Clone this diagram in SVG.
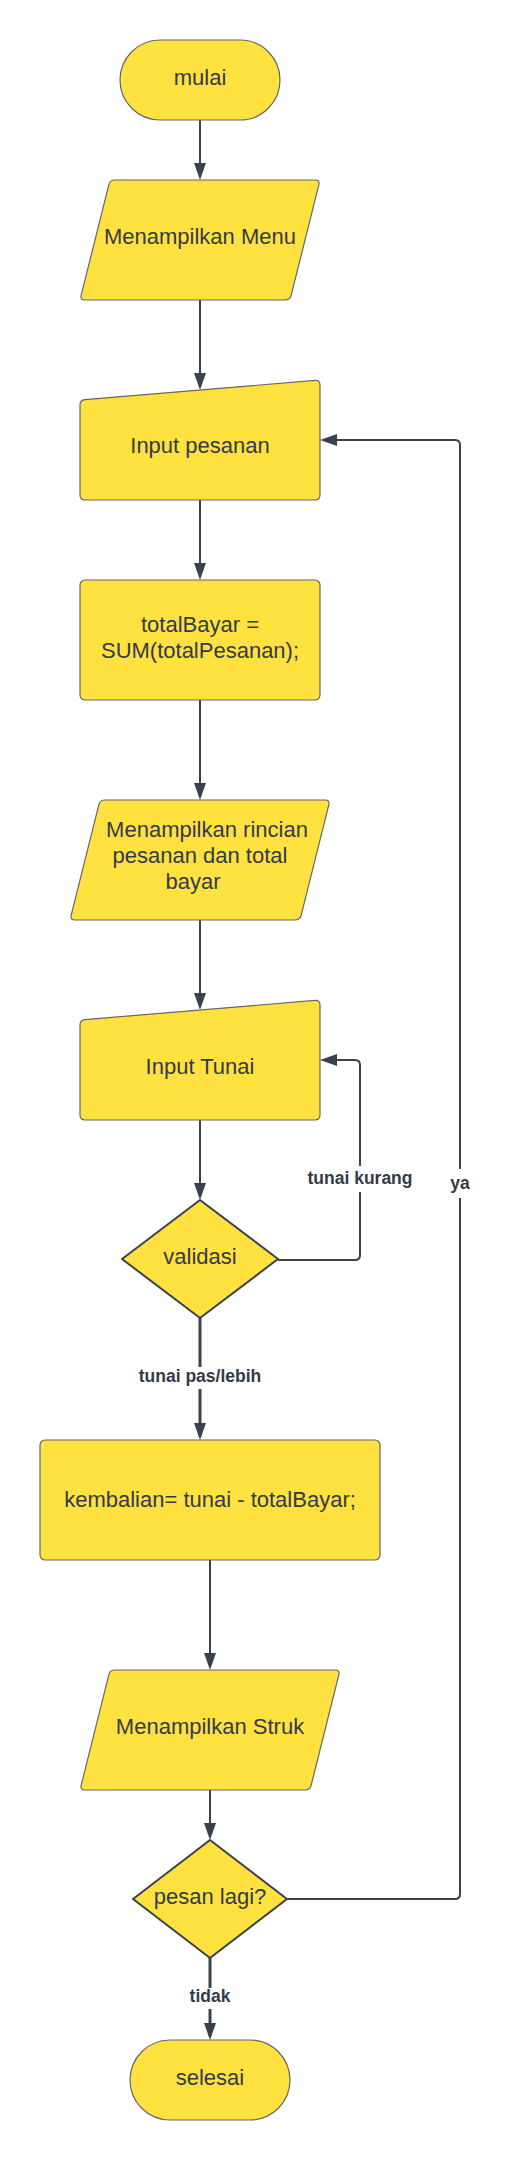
<svg xmlns="http://www.w3.org/2000/svg" width="510" height="2160" viewBox="0 0 510 2160">
<style>
.shape{fill:#FFE13F;stroke:#666666;stroke-width:1.2;stroke-linejoin:round}
.dia{fill:#FFE13F;stroke:#3A414A;stroke-width:2;stroke-linejoin:round}
.t{font-family:"Liberation Sans",Arial,sans-serif;font-size:22px;fill:#333B47;text-anchor:middle}
.lbl{font-family:"Liberation Sans",Arial,sans-serif;font-size:17.5px;font-weight:bold;fill:#333B47;text-anchor:middle}
.c{fill:none;stroke:#3A414A;stroke-width:2;marker-end:url(#ah)}
.ct{stroke-width:3}
.bg{fill:#FFFFFF}
</style>
<defs>
<marker id="ah" markerUnits="userSpaceOnUse" viewBox="0 0 17 12" markerWidth="17" markerHeight="12" refX="13" refY="6" orient="auto">
<path d="M0,0 L17,6 L0,12 Z" fill="#3A414A"/>
</marker>
</defs>
<rect width="510" height="2160" fill="#FFFFFF"/>
<g id="connectors">
<path class="c" d="M200,120 L200,176"/>
<path class="c" d="M200,300 L200,386"/>
<path class="c" d="M200,500 L200,576"/>
<path class="c" d="M200,700 L200,796"/>
<path class="c" d="M200,920 L200,1006"/>
<path class="c" d="M200,1120 L200,1196"/>
<path class="c ct" d="M200,1318 L200,1436"/>
<path class="c" d="M278,1260 L355,1260 Q360,1260 360,1255 L360,1065 Q360,1060 355,1060 L324,1060"/>
<path class="c" d="M210,1560 L210,1666"/>
<path class="c" d="M210,1790 L210,1836"/>
<path class="c ct" d="M210,1958 L210,2036"/>
<path class="c" d="M287,1899 L455,1899 Q460,1899 460,1894 L460,445 Q460,440 455,440 L324,440"/>
<rect class="bg" x="305" y="1166" width="110" height="26"/>
<text class="lbl" x="360" y="1184">tunai kurang</text>
<rect class="bg" x="445" y="1169" width="30" height="29"/>
<text class="lbl" x="460" y="1189">ya</text>
<rect class="bg" x="135" y="1367" width="130" height="22"/>
<text class="lbl" x="200" y="1382">tunai pas/lebih</text>
<rect class="bg" x="185" y="1988" width="50" height="21"/>
<text class="lbl" x="210" y="2002">tidak</text>
</g>
<g id="mulai">
<rect class="shape" x="120" y="40" width="160" height="80" rx="40" ry="40"/>
<text class="t" x="200" y="85">mulai</text>
</g>
<g id="menampilkan-menu">
<path class="shape" d="M115,180 L315,180 Q320,180 318.8,184.85 L291.2,295.15 Q290,300 285,300 L85,300 Q80,300 81.2,295.15 L108.8,184.85 Q110,180 115,180 Z"/>
<text class="t" x="200" y="244">Menampilkan Menu</text>
</g>
<g id="input-pesanan">
<path class="shape" d="M80,405 Q80,400 85,399.6 L315,380.4 Q320,380 320,385 L320,495 Q320,500 315,500 L85,500 Q80,500 80,495 Z"/>
<text class="t" x="200" y="453">Input pesanan</text>
</g>
<g id="total-bayar">
<rect class="shape" x="80" y="580" width="240" height="120" rx="5" ry="5"/>
<text class="t" x="200" y="632">totalBayar =</text>
<text class="t" x="200" y="658">SUM(totalPesanan);</text>
</g>
<g id="rincian">
<path class="shape" d="M105,800 L325,800 Q330,800 328.8,804.85 L301.2,915.15 Q300,920 295,920 L75,920 Q70,920 71.2,915.15 L98.8,804.85 Q100,800 105,800 Z"/>
<text class="t" x="207" y="837">Menampilkan rincian</text>
<text class="t" x="200" y="863">pesanan dan total</text>
<text class="t" x="193" y="889">bayar</text>
</g>
<g id="input-tunai">
<path class="shape" d="M80,1025 Q80,1020 85,1019.6 L315,1000.4 Q320,1000 320,1005 L320,1115 Q320,1120 315,1120 L85,1120 Q80,1120 80,1115 Z"/>
<text class="t" x="200" y="1074">Input Tunai</text>
</g>
<g id="validasi">
<path class="dia" d="M200,1200 L278,1259 L200,1318 L122,1259 Z"/>
<text class="t" x="200" y="1264">validasi</text>
</g>
<g id="kembalian">
<rect class="shape" x="40" y="1440" width="340" height="120" rx="5" ry="5"/>
<text class="t" x="210" y="1507">kembalian= tunai - totalBayar;</text>
</g>
<g id="menampilkan-struk">
<path class="shape" d="M115,1670 L335,1670 Q340,1670 338.8,1674.85 L311.2,1785.15 Q310,1790 305,1790 L85,1790 Q80,1790 81.2,1785.15 L108.8,1674.85 Q110,1670 115,1670 Z"/>
<text class="t" x="210" y="1734">Menampilkan Struk</text>
</g>
<g id="pesan-lagi">
<path class="dia" d="M210,1840 L287,1899 L210,1958 L133,1899 Z"/>
<text class="t" x="210" y="1904">pesan lagi?</text>
</g>
<g id="selesai">
<rect class="shape" x="130" y="2040" width="160" height="80" rx="40" ry="40"/>
<text class="t" x="210" y="2085">selesai</text>
</g>
</svg>
